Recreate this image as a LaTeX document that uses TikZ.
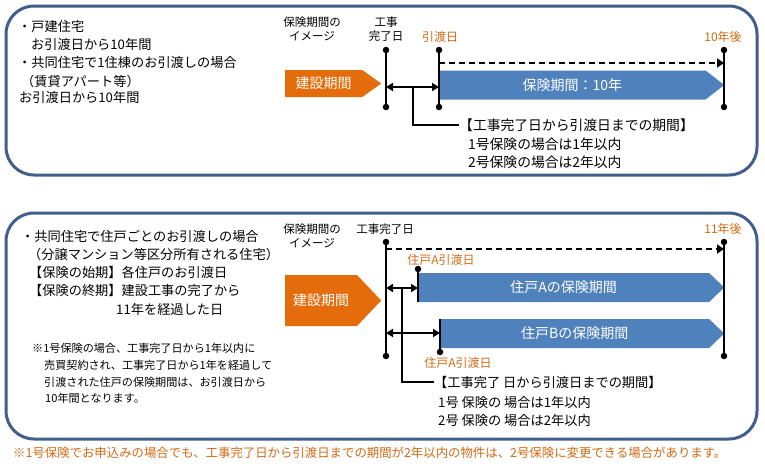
\documentclass[tikz,border=0pt]{standalone}
\usepackage{fontspec}
\setmainfont{Noto Sans CJK JP}
\usetikzlibrary{arrows.meta,shapes.symbols,calc}

\definecolor{framecol}{RGB}{65,95,140}
\definecolor{kensetsu}{RGB}{228,108,10}
\definecolor{hoken}{RGB}{79,129,189}
\definecolor{datecol}{RGB}{210,105,20}

\begin{document}
\begin{tikzpicture}[x=1pt,y=-1pt,
    frame/.style={draw=framecol,line width=3pt,rounded corners=28pt},
    txt/.style={anchor=west,inner sep=0pt,font=\fontsize{13.2}{15}\selectfont},
    big/.style={txt,font=\fontsize{13.8}{16}\selectfont},
    note/.style={txt,font=\fontsize{11.1}{13}\selectfont},
    lbl/.style={inner sep=0pt,align=center,font=\fontsize{11.5}{14}\selectfont},
    datelbl/.style={lbl,text=datecol,font=\fontsize{12}{14}\selectfont},
    bar/.style={signal,signal to=east,anchor=west,inner sep=0pt,text=white,font=\fontsize{14}{16}\selectfont},
    vline/.style={line width=2pt},
    dbl/.style={line width=2pt,{Triangle[length=7pt,width=8pt]}-{Triangle[length=7pt,width=8pt]}},
    dasharr/.style={line width=2pt,dash pattern=on 6pt off 4pt,-{Triangle[length=7pt,width=9pt]}},
    dot/.style={circle,fill,inner sep=0pt,minimum size=6.5pt}]

    \useasboundingbox (0,0) rectangle (765,466);

    % Draw the two frames
    \draw[frame] (6,6) rectangle (757,175);
    \draw[frame] (6,213) rectangle (757,439);

    % Upper frame: the texts on the left
    \node[txt] (t1a) at (18,26) {・戸建住宅};
    \node[txt] (t1b) at (31,44) {お引渡日から10年間};
    \node[txt] (t1c) at (18,62) {・共同住宅で1住棟のお引渡しの場合};
    \node[txt] (t1d) at (21,81) {（賃貸アパート等）};
    \node[txt] (t1e) at (19,97.5) {お引渡日から10年間};

    % Upper frame: the time line
    \node[lbl] (img1) at (312,28.5) {保険期間の\\イメージ};
    \node[lbl] (kanryo1) at (386,29.5) {工事\\完了日};
    \node[datelbl] (hiki1) at (440,37) {引渡日};
    \node[datelbl] (ato1) at (723,37) {10年後};

    \node[dot] (kt1) at (386,50) {};
    \node[dot] (kb1) at (386,107) {};
    \node[dot] (ht1) at (439,50) {};
    \node[dot] (hb1) at (439,107) {};
    \node[dot] (et1) at (724,50) {};
    \node[dot] (eb1) at (724,107) {};

    \node[bar,fill=kensetsu,minimum width=96pt,minimum height=27pt,signal pointer angle=71] (ken1) at (285,83.5) {建設期間};
    \node[bar,fill=hoken,minimum width=285pt,minimum height=29pt,signal pointer angle=76] (hok1) at (439,85) {保険期間：10年};

    \draw[vline] (kt1.center) -- (kb1.center);
    \draw[vline] (ht1.center) -- (hb1.center);
    \draw[vline] (et1.center) -- (eb1.center);

    \coordinate (d1) at (439,63);
    \draw[dasharr] (d1) -- (d1 -| et1);

    \coordinate (a1l) at (386,87);
    \coordinate (a1r) at (439,87);
    \draw[dbl] (a1l) -- (a1r);

    \node[big] (k1) at (459,125) {【工事完了日から引渡日までの期間】};
    \node[big] (k1b) at (468,144) {1号保険の場合は1年以内};
    \node[big] (k1c) at (468,162) {2号保険の場合は2年以内};
    \draw[vline] ($(a1l)!0.5!(a1r)$) |- (k1.west);

    % Lower frame: the texts on the left
    \node[txt] (t2a) at (21,236) {・共同住宅で住戸ごとのお引渡しの場合};
    \node[txt] (t2b) at (28,254) {（分譲マンション等区分所有される住宅）};
    \node[txt] (t2c) at (29,272) {【保険の始期】各住戸のお引渡日};
    \node[txt] (t2d) at (29,290) {【保険の終期】建設工事の完了から};
    \node[txt] (t2e) at (116,309) {11年を経過した日};
    \node[note] (n2a) at (32,348) {※1号保険の場合、工事完了日から1年以内に};
    \node[note] (n2b) at (44,365) {売買契約され、工事完了日から1年を経過して};
    \node[note] (n2c) at (44,382) {引渡された住戸の保険期間は、お引渡日から};
    \node[note] (n2d) at (45,398) {10年間となります。};

    % Lower frame: the time line
    \node[lbl] (img2) at (312,236) {保険期間の\\イメージ};
    \node[lbl] (kanryo2) at (385,229) {工事完了日};
    \node[datelbl] (ato2) at (723,229) {11年後};
    \node[datelbl] (hikiA) at (441,260) {住戸A引渡日};
    \node[datelbl] (hikiB) at (458,363) {住戸A引渡日};

    \node[dot] (kt2) at (386,242) {};
    \node[dot] (kb2) at (386,356) {};
    \node[dot] (et2) at (724,242) {};
    \node[dot] (eb2) at (724,356) {};
    \node[dot] (at2) at (418,269) {};
    \node[dot] (bb2) at (440,352) {};

    \node[bar,fill=kensetsu,minimum width=96pt,minimum height=51pt,signal pointer angle=93] (ken2) at (285,300.5) {建設期間};
    \node[bar,fill=hoken,minimum width=306pt,minimum height=29pt,signal pointer angle=88] (hokA) at (418,287.5) {住戸Aの保険期間};
    \node[bar,fill=hoken,minimum width=284pt,minimum height=29pt,signal pointer angle=88] (hokB) at (440,333.5) {住戸Bの保険期間};

    \draw[vline] (kt2.center) -- (kb2.center);
    \draw[vline] (et2.center) -- (eb2.center);
    \draw[vline] (at2.center) -- (at2 |- hokA.south);
    \draw[vline] (bb2.center) -- (bb2 |- hokB.north);

    \coordinate (d2) at (386,249);
    \draw[dasharr] (d2) -- (d2 -| et2);

    \coordinate (aAl) at (386,288);
    \coordinate (aAr) at (418,288);
    \draw[dbl] (aAl) -- (aAr);
    \coordinate (aBl) at (386,333);
    \coordinate (aBr) at (440,333);
    \draw[dbl] (aBl) -- (aBr);

    \node[txt] (k2) at (434,382) {【工事完了 日から引渡日までの期間】};
    \node[txt] (k2b) at (438,402) {1号 保険の 場合は1年以内};
    \node[txt] (k2c) at (438,420) {2号 保険の 場合は2年以内};
    \draw[vline] ($(aAl)!0.5!(aAr)$) |- (k2.west);
    \draw[vline] ($(aBl)!0.5!(aBr)$) -- ($(aBl)!0.5!(aBr)$ |- k2.west);

    % Add the note at the bottom
    \node[txt,text=datecol,font=\fontsize{12.4}{14}\selectfont] (foot) at (13,453) {※1号保険でお申込みの場合でも、工事完了日から引渡日までの期間が2年以内の物件は、2号保険に変更できる場合があります。};
\end{tikzpicture}
\end{document}
